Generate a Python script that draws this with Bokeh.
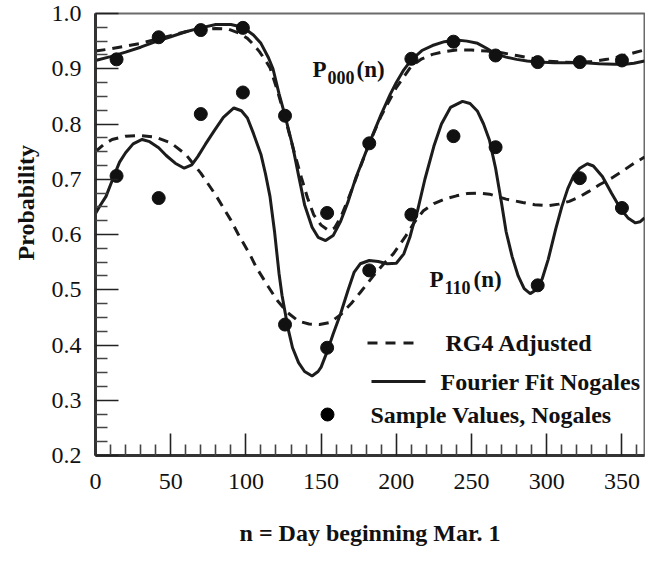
from bokeh.plotting import figure
from bokeh.models import Range1d, FixedTicker, PrintfTickFormatter, Title
from bokeh.core.properties import value
from bokeh.embed import file_html
from bokeh.resources import INLINE

# ---------------- data ----------------
sample_days = [14, 42, 70, 98, 126, 154, 182, 210, 238, 266, 294, 322, 350]
sample_p000 = [0.917, 0.957, 0.970, 0.974, 0.815, 0.639, 0.765, 0.918, 0.949, 0.924, 0.912, 0.912, 0.915]
sample_p110 = [0.706, 0.666, 0.818, 0.857, 0.437, 0.395, 0.535, 0.636, 0.778, 0.758, 0.508, 0.702, 0.648]

fourier000_x = [0, 10, 20, 30, 40, 50, 60, 70, 80, 90, 98, 105, 110, 115, 118, 122, 126, 131, 135, 139,
                144, 148, 153, 158, 163, 168, 173, 177, 182, 190, 196, 200, 205, 210, 217, 224, 232, 240,
                247, 254, 260, 266, 273, 280, 287, 294, 305, 315, 325, 335, 345, 352, 358, 365]
fourier000_y = [0.915, 0.922, 0.930, 0.939, 0.949, 0.958, 0.967, 0.974, 0.980, 0.980, 0.975, 0.961, 0.946,
                0.920, 0.900, 0.855, 0.815, 0.761, 0.707, 0.654, 0.613, 0.595, 0.589, 0.598, 0.624, 0.660,
                0.702, 0.730, 0.765, 0.818, 0.854, 0.875, 0.898, 0.916, 0.933, 0.942, 0.949, 0.952, 0.950,
                0.946, 0.937, 0.927, 0.921, 0.917, 0.914, 0.912, 0.911, 0.911, 0.911, 0.909, 0.908, 0.908,
                0.910, 0.914]

rg4_000_x = [0, 10, 20, 30, 40, 50, 60, 70, 80, 88, 95, 101, 105, 109, 113, 116, 121, 126, 131, 137, 141,
             145, 150, 155, 159, 163, 168, 173, 182, 190, 200, 210, 217, 224, 232, 240, 250, 260, 270, 280,
             290, 300, 310, 320, 330, 340, 350, 358, 365]
rg4_000_y = [0.932, 0.936, 0.941, 0.946, 0.953, 0.960, 0.967, 0.971, 0.973, 0.972, 0.965, 0.955, 0.944,
             0.931, 0.915, 0.902, 0.860, 0.812, 0.760, 0.702, 0.666, 0.636, 0.617, 0.607, 0.612, 0.631,
             0.664, 0.700, 0.765, 0.815, 0.866, 0.905, 0.918, 0.926, 0.931, 0.934, 0.934, 0.932, 0.929,
             0.924, 0.919, 0.914, 0.912, 0.911, 0.913, 0.917, 0.923, 0.929, 0.934]

fourier110_x = [0, 3, 7, 10, 13, 16, 20, 25, 31, 36, 42, 47, 53, 59, 64, 68, 73, 79, 85, 92, 97, 101, 105,
                110, 113, 116, 119, 122, 124, 128, 131, 135, 139, 144, 148, 150, 154, 158, 163, 168, 172,
                176, 182, 188, 194, 200, 205, 209, 212, 214, 219, 225, 230, 236, 244, 249, 254, 258, 262,
                266, 270, 273, 277, 281, 285, 289, 293, 297, 301, 306, 310, 314, 318, 322, 327, 331, 337,
                343, 349, 354, 359, 362, 365]
fourier110_y = [0.638, 0.652, 0.669, 0.690, 0.711, 0.731, 0.748, 0.764, 0.772, 0.768, 0.757, 0.743, 0.729,
                0.720, 0.726, 0.741, 0.763, 0.788, 0.812, 0.829, 0.824, 0.811, 0.783, 0.745, 0.710, 0.669,
                0.606, 0.530, 0.490, 0.430, 0.395, 0.368, 0.352, 0.344, 0.352, 0.360, 0.388, 0.420, 0.457,
                0.500, 0.532, 0.547, 0.553, 0.551, 0.547, 0.548, 0.565, 0.595, 0.625, 0.642, 0.700, 0.760,
                0.800, 0.830, 0.841, 0.837, 0.823, 0.800, 0.770, 0.720, 0.656, 0.605, 0.560, 0.525, 0.502,
                0.493, 0.500, 0.520, 0.555, 0.610, 0.650, 0.683, 0.707, 0.720, 0.728, 0.724, 0.705, 0.675,
                0.647, 0.630, 0.621, 0.623, 0.630]

rg4_110_x = [0, 5, 11, 20, 30, 40, 50, 60, 70, 80, 90, 95, 103, 107, 115, 121, 128, 135, 142, 149, 156,
             163, 170, 176, 185, 192, 198, 206, 212, 218, 225, 232, 240, 247, 255, 262, 273, 284, 292, 301,
             308, 315, 321, 328, 335, 343, 350, 358, 365]
rg4_110_y = [0.750, 0.762, 0.772, 0.778, 0.779, 0.776, 0.766, 0.745, 0.711, 0.671, 0.626, 0.600, 0.562,
             0.540, 0.505, 0.480, 0.458, 0.443, 0.438, 0.437, 0.441, 0.455, 0.475, 0.495, 0.526, 0.548,
             0.565, 0.596, 0.622, 0.643, 0.656, 0.664, 0.670, 0.674, 0.675, 0.673, 0.664, 0.658, 0.654,
             0.652, 0.655, 0.660, 0.667, 0.678, 0.690, 0.702, 0.714, 0.729, 0.740]

x_major = [0, 50, 100, 150, 200, 250, 300, 350]
x_minor = [v for v in range(0, 366, 10) if v % 50 != 0]
y_major = [0.2, 0.3, 0.4, 0.5, 0.6, 0.7, 0.8, 0.9, 1.0]
y_minor = [round(0.2 + 0.025 * i, 3) for i in range(33) if i % 4 != 0]

legend_labels = ["RG4 Adjusted", "Fourier Fit Nogales", "Sample Values, Nogales"]
x_title = "n = Day beginning Mar. 1"
y_title = "Probability"

# ---------------- layout ----------------
W, H = 645, 552
BL, BR, BT, BB = 95, 1, 13, 97
X0, X1, Y0, Y1 = 0, 365, 0.2, 1.0
FW, FH = W - BL - BR, H - BT - BB
PAGE = 8


def dx(px):  # page pixel -> data x
    return X0 + (px - PAGE - BL) * (X1 - X0) / FW


def dy(py):  # page pixel -> data y
    return Y1 - (py - PAGE - BT) * (Y1 - Y0) / FH


SERIF = "Liberation Serif"
INK = "#1c1c1c"
DASH = "10 7"

p = figure(width=W, height=H, output_backend="svg", toolbar_location=None,
           x_range=Range1d(X0, X1), y_range=Range1d(Y0, Y1),
           min_border_left=BL, min_border_right=BR, min_border_top=BT, min_border_bottom=BB)
p.grid.visible = False
p.background_fill_color = "white"
p.border_fill_color = "white"
p.outline_line_color = "#6a6a6a"
p.outline_line_width = 2

p.xaxis.ticker = FixedTicker(ticks=x_major, minor_ticks=x_minor)
p.yaxis.ticker = FixedTicker(ticks=y_major, minor_ticks=y_minor)
p.yaxis.formatter = PrintfTickFormatter(format="%.1f")
for ax in (p.xaxis, p.yaxis):
    ax.axis_line_color = "#333333"
    ax.axis_line_width = 3
    ax.major_tick_line_color = "#222222"
    ax.minor_tick_line_color = "#444444"
    ax.major_tick_line_width = 1.6
    ax.minor_tick_line_width = 1.6
    ax.major_tick_out = 0
    ax.minor_tick_out = 0
    ax.major_label_text_font = SERIF
    ax.major_label_text_font_size = "24px"
    ax.major_label_text_color = "#111111"
p.xaxis.major_tick_in = 22
p.xaxis.minor_tick_in = 11
p.yaxis.major_tick_in = 23
p.yaxis.minor_tick_in = 12
p.xaxis.major_label_standoff = 18
p.yaxis.major_label_standoff = 14

# x-axis title
p.xaxis.axis_label = x_title
p.xaxis.axis_label_standoff = 28
p.xaxis.axis_label_text_font = SERIF
p.xaxis.axis_label_text_font_style = "bold"
p.xaxis.axis_label_text_font_size = "24px"
p.xaxis.axis_label_text_color = "#111111"

# curves
p.line(rg4_000_x, rg4_000_y, line_color=INK, line_width=3, line_dash=DASH)
p.line(rg4_110_x, rg4_110_y, line_color=INK, line_width=3, line_dash=DASH)
p.line(fourier000_x, fourier000_y, line_color=INK, line_width=3)
p.line(fourier110_x, fourier110_y, line_color=INK, line_width=3)
p.scatter(sample_days, sample_p000, size=13, fill_color="#111111", line_color="#111111")
p.scatter(sample_days, sample_p110, size=13, fill_color="#111111", line_color="#111111")

# legend (drawn inside the plot like the reference)
p.line([dx(375), dx(421)], [dy(350.5), dy(350.5)], line_color=INK, line_width=3, line_dash="10 8")
p.line([dx(379), dx(433)], [dy(389), dy(389)], line_color=INK, line_width=3)
p.scatter([dx(335)], [dy(422)], size=13, fill_color="#000000", line_color="#000000")
p.text([dx(453), dx(448), dx(378)], [dy(350.5), dy(389), dy(422)], text=legend_labels,
       text_font=value(SERIF), text_font_style="bold", text_font_size="24px",
       text_baseline="middle", text_align="left", text_color="#111111")

# curve name annotations P000(n), P110(n)
for (px, py, sub) in [(320, 77, "000"), (437, 287, "110")]:
    p.text([dx(px)], [dy(py)], text=["P"], text_font=value(SERIF), text_font_style="bold",
           text_font_size="23px", text_baseline="alphabetic", text_color="#111111")
    p.text([dx(px + 15)], [dy(py + 8)], text=[sub], text_font=value(SERIF), text_font_style="bold",
           text_font_size="18px", text_baseline="alphabetic", text_color="#111111")
    p.text([dx(px + 44)], [dy(py)], text=["(n)"], text_font=value(SERIF), text_font_style="bold",
           text_font_size="23px", text_baseline="alphabetic", text_color="#111111")

# y-axis title as a side title, offset toward the top like the reference
p.add_layout(Title(text=y_title, align="left", offset=195, standoff=20,
                   text_font=SERIF, text_font_style="bold", text_font_size="24px",
                   text_color="#111111"), "left")

open("out.html", "w").write(file_html(p, INLINE))
